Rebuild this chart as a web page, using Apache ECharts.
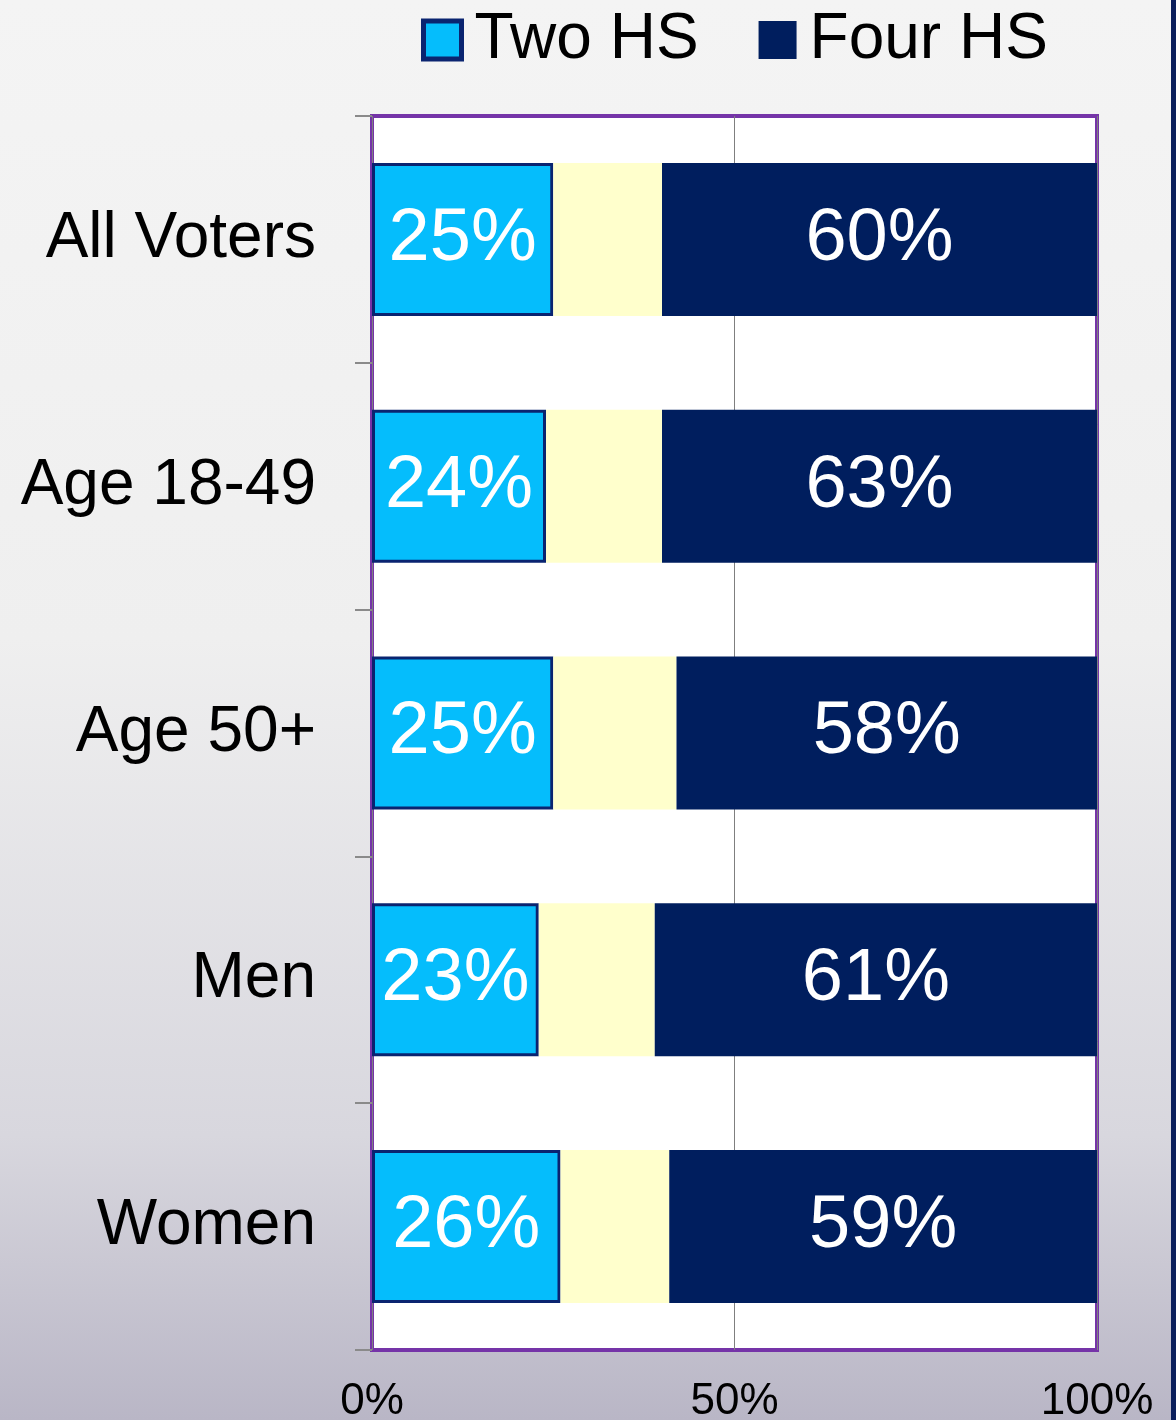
<!DOCTYPE html>
<html>
<head>
<meta charset="utf-8">
<script src="https://cdn.jsdelivr.net/npm/echarts@6/dist/echarts.min.js"></script>
<style>
  html, body { margin: 0; padding: 0; }
  body {
    width: 1176px; height: 1420px; overflow: hidden;
    background: linear-gradient(180deg, #f4f4f4 0%, #efefef 45%, #d8d7de 80%, #b9b6c6 100%);
  }
  #main { width: 1171px; height: 1420px; border-right: 5px solid #0b1f5c; }
</style>
</head>
<body>
<div id="main"></div>
<script>
// groups, top to bottom
const categories = ['All Voters', 'Age 18-49', 'Age 50+', 'Men', 'Women']
const twoHS = [25, 24, 25, 23, 26]
const otherShare = [15, 16, 17, 16, 15]   // unlabelled middle segment, as drawn
const fourHS = [60, 63, 58, 61, 59]
const xTicks = [0, 50, 100]

const chart = echarts.init(document.getElementById('main'))
chart.setOption({
  backgroundColor: 'transparent',
  textStyle: { fontFamily: 'Liberation Sans, Arial, sans-serif' },
  legend: {
    data: [
      { name: 'Two HS', icon: 'rect', itemStyle: { borderWidth: 5, borderColor: '#0a2470' } },
      { name: 'Four HS', icon: 'rect' }
    ],
    top: 3,
    left: 416,
    itemWidth: 38,
    itemHeight: 38,
    itemGap: 60,
    textStyle: { fontSize: 64, color: '#000', padding: [0, 0, 0, 8] }
  },
  grid: {
    left: 372,
    right: 74,
    top: 116,
    bottom: 70,
    outerBoundsMode: 'none',
    show: true,
    backgroundColor: '#fff',
    borderColor: '#7534a8',
    borderWidth: 4
  },
  xAxis: {
    type: 'value',
    min: xTicks[0],
    max: xTicks[xTicks.length - 1],
    interval: 50,
    axisLine: { show: false },
    axisTick: { show: false },
    splitLine: { show: true, lineStyle: { color: '#7f7f7f', width: 1 } },
    axisLabel: {
      formatter: '{value}%',
      fontSize: 44,
      fontFamily: 'Liberation Sans Narrow, Arial Narrow, sans-serif',
      color: '#000',
      margin: 30
    }
  },
  yAxis: {
    type: 'category',
    data: categories,
    inverse: true,
    axisLine: { show: false },
    axisTick: { show: true, length: 17, lineStyle: { color: '#8a8a8a', width: 2 } },
    axisLabel: { fontSize: 64, color: '#000', margin: 56, padding: [6, 0, 0, 0] }
  },
  series: [
    {
      name: 'Two HS',
      type: 'bar',
      stack: 'total',
      barWidth: '62%',
      data: twoHS,
      itemStyle: { color: '#05bdfc', borderColor: '#0a2470', borderWidth: 3 },
      label: { show: true, position: 'inside', formatter: '{c}%', color: '#fff', fontSize: 74, padding: [6, 0, 0, 0] }
    },
    {
      name: 'Other',
      type: 'bar',
      stack: 'total',
      data: otherShare,
      itemStyle: { color: '#ffffcc' }
    },
    {
      name: 'Four HS',
      type: 'bar',
      stack: 'total',
      clip: true,
      data: fourHS,
      itemStyle: { color: '#001e5e' },
      label: { show: true, position: 'inside', formatter: '{c}%', color: '#fff', fontSize: 74, padding: [6, 0, 0, 0] }
    }
  ]
})
</script>
</body>
</html>
